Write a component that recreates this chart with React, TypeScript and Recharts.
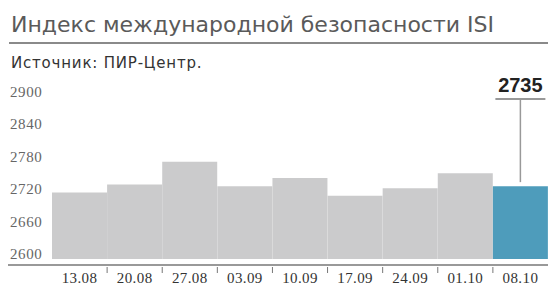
import React from 'react';
import { BarChart, Bar, XAxis, YAxis, Cell, LabelList } from 'recharts';

const dates = ['13.08', '20.08', '27.08', '03.09', '10.09', '17.09', '24.09', '01.10', '08.10'];
const values = [2723, 2738, 2780, 2735, 2750, 2717, 2731, 2759, 2735];
const yTicks = [2600, 2660, 2720, 2780, 2840, 2900];

const BASE = 2600;
const W = 548;
const H = 287;
const LEFT = 52;
const TOP = 97;

const GRAY = '#cbcbcc';
const BLUE = '#4e9cbb';
const serif = '"Liberation Serif", "DejaVu Serif", serif';
const sans = '"Liberation Sans", Arial, sans-serif';
const wide = '"DejaVu Sans", "Liberation Sans", sans-serif';

const data = dates.map((d, i) => ({ date: d, range: [BASE, values[i]], value: values[i] }));

const YTick = (props: any) => {
    const { y, payload } = props;
    return (
        <text x={10} y={y} fill="#666" fontSize={15} fontFamily={serif} letterSpacing={0.6}>
            {payload.value}
        </text>
    );
};

const XTick = (props: any) => {
    const { x, y, payload } = props;
    const bw = (W - LEFT) / dates.length;
    return (
        <g>
            {payload.index > 0 && (
                <line x1={x - bw / 2} x2={x - bw / 2} y1={y + 2} y2={y + 8} stroke="#777" strokeWidth={1} />
            )}
            <text x={x} y={y + 18} textAnchor="middle" fill="#333" fontSize={15} fontFamily={serif} letterSpacing={0.4}>
                {payload.value}
            </text>
        </g>
    );
};

// callout over the last bar
const Callout = (props: any) => {
    const { x, y, width, index } = props;
    if (index !== dates.length - 1) return null;
    const cx = x + width / 2;
    return (
        <g>
            <text x={cx} y={TOP - 5} textAnchor="middle" fill="#222" fontSize={20} fontWeight="bold" fontFamily={sans}>
                {values[index]}
            </text>
            <line x1={cx - 25} x2={cx + 25} y1={TOP + 2} y2={TOP + 2} stroke="#999" strokeWidth={2} />
            <line x1={cx} x2={cx} y1={TOP + 3} y2={y - 4} stroke="#999" strokeWidth={1.5} />
        </g>
    );
};

export default function App() {
    return (
        <div style={{ position: 'absolute', left: 0, top: 0, width: W, height: H, background: '#fff', overflow: 'hidden' }}>
            <svg width={W} height={75} style={{ position: 'absolute', left: 0, top: 0 }}>
                <text x={11} y={32} fontFamily={wide} fontSize={22} fill="#5a5a5a">
                    Индекс международной безопасности ISI
                </text>
                <line x1={9} x2={W} y1={43} y2={43} stroke="#8a8a8a" strokeWidth={2} />
                <text x={11} y={68} fontFamily={wide} fontSize={15} fill="#333" letterSpacing={0.8}>
                    Источник: ПИР-Центр.
                </text>
            </svg>
            <div style={{ position: 'absolute', left: 8, top: 264, width: W - 8, height: 2, background: '#999' }} />
            <div style={{ position: 'absolute', left: 0, top: 0 }}>
                <BarChart
                    width={W}
                    height={H}
                    data={data}
                    margin={{ top: TOP, right: 0, left: 0, bottom: 0 }}
                    barCategoryGap={0}
                >
                    <XAxis
                        dataKey="date"
                        height={22}
                        axisLine={false}
                        tickLine={false}
                        tickSize={0}
                        tickMargin={0}
                        interval={0}
                        tick={<XTick />}
                    />
                    <YAxis
                        width={LEFT}
                        domain={[2589, 2900]}
                        ticks={yTicks}
                        allowDataOverflow
                        axisLine={false}
                        tickLine={false}
                        tick={<YTick />}
                    />
                    <Bar dataKey="range" isAnimationActive={false}>
                        {data.map((_, i) => (
                            <Cell key={`c-${i}`} fill={i === dates.length - 1 ? BLUE : GRAY} />
                        ))}
                        <LabelList dataKey="value" content={<Callout />} />
                    </Bar>
                </BarChart>
            </div>
        </div>
    );
}
